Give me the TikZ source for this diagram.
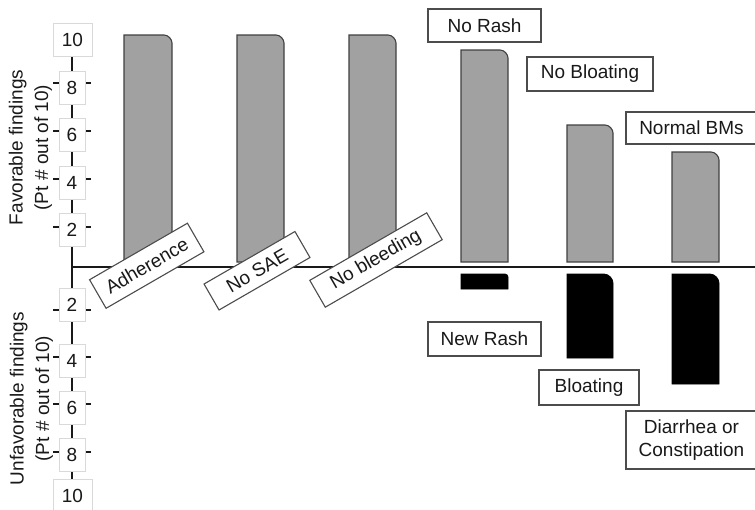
\documentclass[tikz,border=0pt]{standalone}
\usepackage{fontspec}
\setmainfont{Liberation Sans}
\begin{document}
\begin{tikzpicture}[x=1pt,y=-1pt,
  every node/.style={font=\fontsize{19}{23}\selectfont, text=black!90, inner sep=0pt},
  ticklab/.style={draw=black!15, fill=white, line width=0.8pt, minimum width=26, minimum height=33},
  lab/.style={draw=black!70, fill=white, line width=1.1pt, minimum height=33},
  posbar/.style={draw=black!75, fill=black!37, line width=1.1pt},
  negbar/.style={draw=black, fill=black, line width=0.8pt},
  axis/.style={draw=black!90, line width=2.2pt},
  tick/.style={draw=black!90, line width=1.6pt}]
\useasboundingbox (0,0) rectangle (755,509);
\newcommand\rbar[6]{% x1 x2 yflat yend r style
  \path[#6] (#1,#4) -- (#1,#3) -- ({#2-#5},#3) .. controls ({#2-0.45*#5},#3) and (#2,{#3+(#4-#3)/abs(#4-#3)*0.55*#5}) .. (#2,{#3+(#4-#3)/abs(#4-#3)*#5}) -- (#2,#4) -- cycle;}
% bars
\rbar{124}{172}{35}{262}{8}{posbar}
\rbar{237}{284}{35}{262}{8}{posbar}
\rbar{349}{396}{35}{262}{8}{posbar}
\rbar{461}{508}{50}{262}{8}{posbar}
\rbar{567}{613}{125}{262}{8}{posbar}
\rbar{672}{719}{152}{262}{8}{posbar}
\rbar{461}{508}{274}{289}{3}{negbar}
\rbar{567}{613}{274}{358}{9}{negbar}
\rbar{672}{719}{274}{384}{9}{negbar}
% axes
\coordinate (ytop) at (72,56);
\coordinate (ybot) at (72,485);
\coordinate (xl) at (72,267);
\coordinate (xr) at (755,267);
\draw[axis] (ytop) -- (ybot);
\draw[axis] (xl) -- (xr);
% ticks
\foreach \y in {83,131,179,227,310,357,404,452}{\draw[tick] (53,\y) -- (91,\y);}
\node[ticklab, minimum width=39] (t10) at (72.5,39.5) {10};
\node[ticklab] (t8) at (72,87.5) {8};
\node[ticklab] (t6) at (72,135) {6};
\node[ticklab] (t4) at (72,182.5) {4};
\node[ticklab] (t2) at (72,230) {2};
\node[ticklab] (b2) at (72,305) {2};
\node[ticklab] (b4) at (72,360.5) {4};
\node[ticklab] (b6) at (72,407.5) {6};
\node[ticklab] (b8) at (72,454.5) {8};
\node[ticklab, minimum width=39] (b10) at (72.5,495.5) {10};
% axis titles
\node[rotate=90, align=center, font=\fontsize{19}{25.5}\selectfont] (fav) at (30.5,147.5) {Favorable findings\\(Pt \# out of 10)};
\node[rotate=90, align=center, font=\fontsize{19}{25.5}\selectfont] (unfav) at (31.5,398.5) {Unfavorable findings\\(Pt \# out of 10)};
% rotated labels
\node[lab, rotate=30, minimum width=113] (adh) at (146.75,265.75) {Adherence};
\node[lab, rotate=30, minimum width=105, minimum height=30] (sae) at (257,270.75) {No SAE};
\node[lab, rotate=30, minimum width=135, minimum height=31] (bleed) at (376,260) {No bleeding};
% other labels
\node[lab, minimum width=113] (norash) at (484.5,25.5) {No Rash};
\node[lab, minimum width=126, minimum height=34] (nobloat) at (590,74) {No Bloating};
\node[lab, minimum width=131, minimum height=32] (normal) at (691.5,128) {Normal BMs};
\node[lab, minimum width=113, minimum height=34] (newrash) at (484.5,339) {New Rash};
\node[lab, minimum width=100, minimum height=35] (bloat) at (589,387.5) {Bloating};
\node[lab, minimum width=131, minimum height=58, align=center, font=\fontsize{19}{22.5}\selectfont] (diar) at (691.5,440) {Diarrhea or\\Constipation};
\end{tikzpicture}
\end{document}
